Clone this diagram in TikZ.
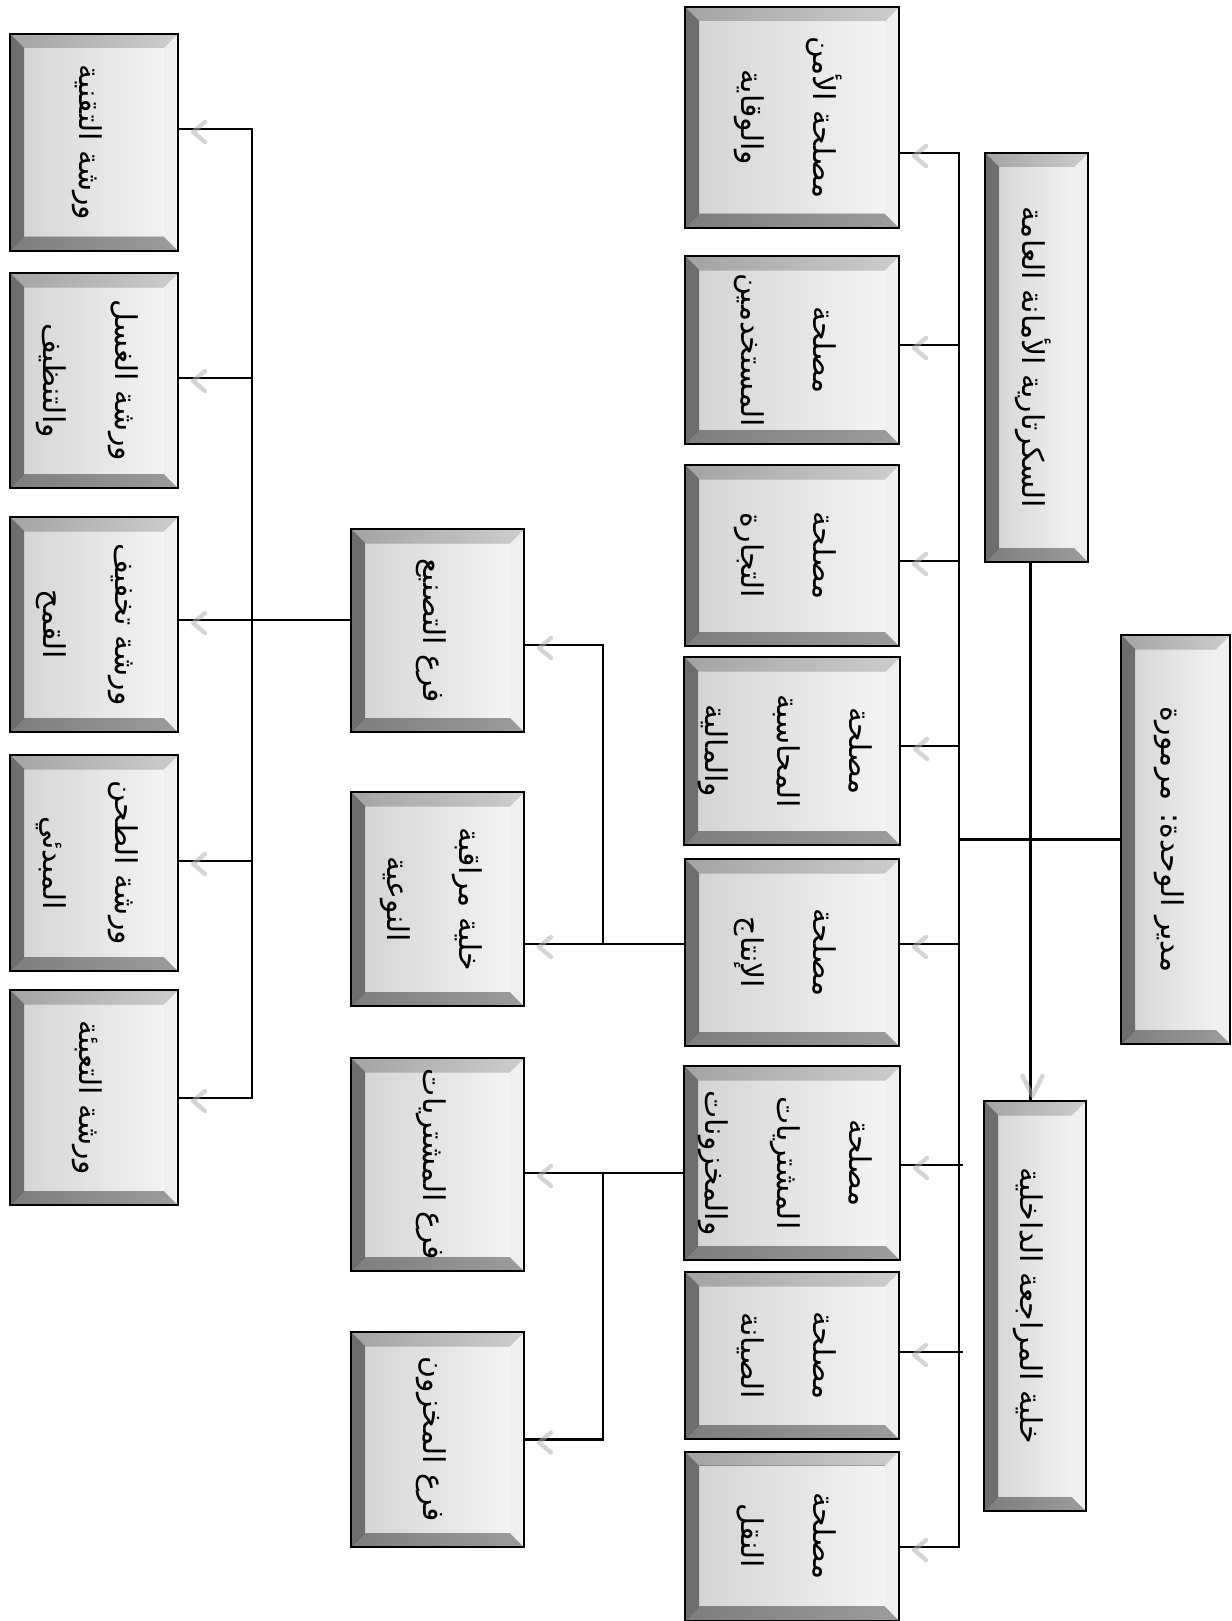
\documentclass[tikz,border=0pt]{standalone}
\usepackage{fontspec}
\usepackage{graphicx}
\newfontfamily\arabicfont[Script=Arabic]{DejaVu Sans}
\TeXXeTstate=1
\usetikzlibrary{calc}
\definecolor{bvleft}{HTML}{6E6E6E}
\definecolor{bvtopL}{HTML}{A3A3A3}
\definecolor{bvtopR}{HTML}{CDCDCD}
\definecolor{bvbotL}{HTML}{7D7D7D}
\definecolor{bvbotR}{HTML}{9C9C9C}
\definecolor{bvright}{HTML}{EFEFEF}
\definecolor{faceL}{HTML}{D2D2D2}
\definecolor{faceR}{HTML}{F6F6F6}
\newcommand\artx[1]{{\arabicfont\beginR #1\endR}}
\newcommand\boxtext[1]{\rotatebox{-90}{\fontsize{15pt}{36pt}\selectfont\begin{tabular}{@{}c@{}}#1\end{tabular}}}
\newcommand\shl[1]{\draw[shtip] #1 ++(13pt,3.5pt) -- ++(-6pt,-5pt) -- ++(6pt,-5pt);}
\newcommand\shd[1]{\draw[shtip] #1 ++(-4pt,12pt) -- ++(5pt,-10pt) -- ++(5pt,10pt);}
\tikzset{
  bev/.style={rectangle, draw=black, line width=1pt, inner sep=0pt,
    path picture={
      \fill[left color=faceL,right color=faceR] ([shift={(7pt,-7pt)}]path picture bounding box.north west) rectangle ([shift={(-7pt,7pt)}]path picture bounding box.south east);
      \fill[left color=bvtopL,right color=bvtopR] (path picture bounding box.north west) -- (path picture bounding box.north east) -- ([shift={(-7pt,-7pt)}]path picture bounding box.north east) -- ([shift={(7pt,-7pt)}]path picture bounding box.north west) -- cycle;
      \fill[bvleft] (path picture bounding box.north west) -- ([shift={(7pt,-7pt)}]path picture bounding box.north west) -- ([shift={(7pt,7pt)}]path picture bounding box.south west) -- (path picture bounding box.south west) -- cycle;
      \fill[left color=bvbotL,right color=bvbotR] (path picture bounding box.south west) -- ([shift={(7pt,7pt)}]path picture bounding box.south west) -- ([shift={(-7pt,7pt)}]path picture bounding box.south east) -- (path picture bounding box.south east) -- cycle;
      \fill[bvright] (path picture bounding box.north east) -- (path picture bounding box.south east) -- ([shift={(-7pt,7pt)}]path picture bounding box.south east) -- ([shift={(-7pt,-7pt)}]path picture bounding box.north east) -- cycle;
    }},
  colA/.style={bev, minimum width=107pt},
  colC/.style={bev, minimum width=86.5pt},
  colD/.style={bev, minimum width=84pt},
  conn/.style={draw=black, line width=1.1pt},
  shtip/.style={draw=black!30, line width=2.2pt, line cap=round, line join=round, opacity=0.55}
}
\begin{document}
\begin{tikzpicture}[x=0.5pt,y=-0.5pt]
\useasboundingbox (0,0) rectangle (1231,1621);
\fill[white] (0,0) rectangle (1231,1621);

% column A
\node[colA, minimum height=110.5pt] (A1) at (792,117.5) {\boxtext{\artx{مصلحة الأمن}\\\artx{والوقاية}}};
\node[colA, minimum height=94pt] (A2) at (792,350) {\boxtext{\artx{مصلحة}\\\artx{المستخدمين}}};
\node[colA, minimum height=90.5pt] (A3) at (792,555.5) {\boxtext{\artx{مصلحة}\\\artx{التجارة}}};
\node[colA, minimum height=94pt] (A4) at (792,751) {\boxtext{\artx{مصلحة}\\\artx{المحاسبة}\\\artx{والمالية}}};
\node[colA, minimum height=93.5pt] (A5) at (792,952.5) {\boxtext{\artx{مصلحة}\\\artx{الإنتاج}}};
\node[colA, minimum height=97pt] (A6) at (792,1163) {\boxtext{\artx{مصلحة}\\\artx{المشتريات}\\\artx{والمخزونات}}};
\node[colA, minimum height=83.5pt] (A7) at (792,1355.5) {\boxtext{\artx{مصلحة}\\\artx{الصيانة}}};
\node[colA, minimum height=84.5pt] (A8) at (792,1536) {\boxtext{\artx{مصلحة}\\\artx{النقل}}};

% right column
\node[bev, minimum width=51.5pt, minimum height=204.5pt] (SEC) at (1036.5,357.5) {\boxtext{\artx{السكرتارية الأمانة العامة}}};
\node[bev, minimum width=54.5pt, minimum height=204.5pt] (MGR) at (1175.5,839.5) {\boxtext{\artx{مدير الوحدة: مرمورة}}};
\node[bev, minimum width=51pt, minimum height=205pt] (AUD) at (1035,1306) {\boxtext{\artx{خلية المراجعة الداخلية}}};

% column C
\node[colC, minimum height=101.5pt] (C1) at (437.5,630.5) {\boxtext{\artx{فرع التصنيع}}};
\node[colC, minimum height=107pt] (C2) at (437.5,899) {\boxtext{\artx{خلية مراقبة}\\\artx{النوعية}}};
\node[colC, minimum height=106.5pt] (C3) at (437.5,1164.5) {\boxtext{\artx{فرع المشتريات}}};
\node[colC, minimum height=107.5pt] (C4) at (437.5,1439.5) {\boxtext{\artx{فرع المخزون}}};

% column D
\node[colD, minimum height=108.5pt] (D1) at (94,142.5) {\boxtext{\artx{ورشة التقنية}}};
\node[colD, minimum height=107.5pt] (D2) at (94,380.5) {\boxtext{\artx{ورشة الغسل}\\\artx{والتنظيف}}};
\node[colD, minimum height=107.5pt] (D3) at (94,624.5) {\boxtext{\artx{ورشة تخفيف}\\\artx{القمح}}};
\node[colD, minimum height=108pt] (D4) at (94,863) {\boxtext{\artx{ورشة الطحن}\\\artx{المبدئي}}};
\node[colD, minimum height=107.5pt] (D5) at (94,1097.5) {\boxtext{\artx{ورشة التعبئة}}};

% bus A
\coordinate (bt) at (959,153);
\coordinate (bb) at (959,1547);
\draw[conn] (A1.east |- bt) -- (bt) -- (bb) -- (A8.east |- bb);
\draw[conn] ([yshift=2.5pt]A2.east) -- ([yshift=2.5pt]A2.east -| bt);
\draw[conn] ([yshift=-2.75pt]A3.east) -- ([yshift=-2.75pt]A3.east -| bt);
\draw[conn] ([yshift=2.5pt]A4.east) -- ([yshift=2.5pt]A4.east -| bt);
\draw[conn] ([yshift=4.25pt]A5.east) -- ([yshift=4.25pt]A5.east -| bt);
\draw[conn] ([yshift=-1pt]A6.east) -- ([yshift=-1pt,xshift=2pt]A6.east -| bt);
\draw[conn] ([yshift=1.75pt]A7.east) -- ([yshift=1.75pt,xshift=2pt]A7.east -| bt);
\draw[conn] (MGR.west) -- (MGR.west -| bt);
\draw[conn] ([xshift=-3pt]SEC.south) -- ([xshift=-3pt]SEC.south |- AUD.north);

% column C connectors
\coordinate (cj1) at (603,944);
\coordinate (cj2) at (603,1173);
\draw[conn] ([yshift=4.25pt]A5.west) -- ([yshift=4.25pt]A5.west -| C2.east);
\draw[conn] ([yshift=-7.25pt]C1.east) -| (cj1);
\draw[conn] ([yshift=-5pt]A6.west) -- ([yshift=-5pt]A6.west -| C3.east);
\draw[conn] (C4.east) -| (cj2);

% column D connectors
\coordinate (dt) at (252,129);
\coordinate (db) at (252,1098);
\draw[conn] (D1.east |- dt) -- (dt) -- (db) -- (D5.east |- db);
\draw[conn] ([yshift=1.25pt]D2.east) -- ([yshift=1.25pt]D2.east -| dt);
\draw[conn] ([yshift=5.25pt]C1.west) -- ([yshift=5.25pt]C1.west -| D3.east);
\draw[conn] ([yshift=1pt]D4.east) -- ([yshift=1pt]D4.east -| dt);

% arrow shadows
\shl{(A1.east |- bt)}
\shl{([yshift=2.5pt]A2.east)}
\shl{([yshift=-2.75pt]A3.east)}
\shl{([yshift=2.5pt]A4.east)}
\shl{([yshift=4.25pt]A5.east)}
\shl{([yshift=-1pt]A6.east)}
\shl{([yshift=1.75pt]A7.east)}
\shl{(A8.east |- bb)}
\shl{([yshift=-7.25pt]C1.east)}
\shl{([yshift=4.25pt]A5.west -| C2.east)}
\shl{([yshift=-5pt]A6.west -| C3.east)}
\shl{(C4.east)}
\shl{(D1.east |- dt)}
\shl{([yshift=1.25pt]D2.east)}
\shl{([yshift=5.25pt]C1.west -| D3.east)}
\shl{([yshift=1pt]D4.east)}
\shl{(D5.east |- db)}
\shd{([xshift=-3pt]SEC.south |- AUD.north)}
\end{tikzpicture}
\end{document}
